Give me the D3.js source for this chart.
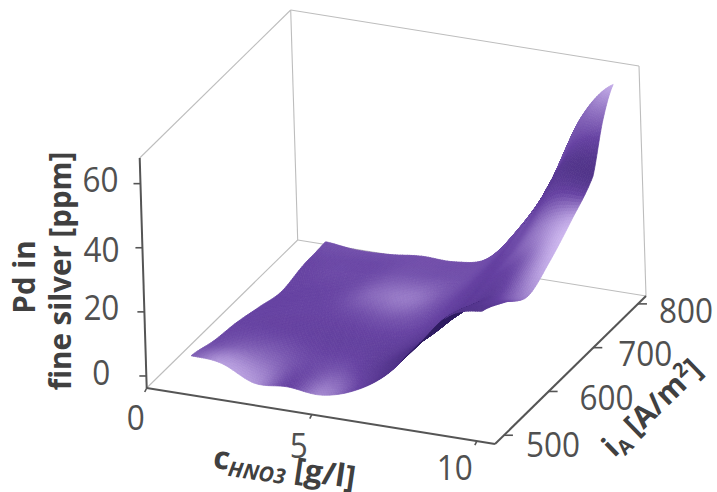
<!DOCTYPE html>
<html>
<head>
<meta charset="utf-8">
<script src="https://cdn.jsdelivr.net/npm/d3@7"></script>
<style>
  html, body { margin: 0; background: #fff; }
  svg { display: block; }
  text { font-family: "Open Sans", sans-serif; }
</style>
</head>
<body>
<div id="chart"></div>
<script>
const concentrations = [1.1, 2, 3, 4, 5, 6, 7, 8, 9, 10];
const currents = [500, 550, 600, 650, 700, 750, 775, 800];

// Pd [ppm], one row per current density
const pd500 = [5.4, 4.6, 0, 0.5, -0.4, 2.5, 9, 20, 31, 34];
const pd550 = [3.2, 3, 2, 1, 1, 3, 9.5, 19, 27.5, 30];
const pd600 = [2, 2, 2, 1.5, 1.5, 3, 8, 17, 24, 25];
const pd650 = [0, 1, 1.5, 2, 2, 3, 8, 18, 26, 29];
const pd700 = [-2, 0, 1, 2, 2, 3, 9, 20, 31, 35];
const pd750 = [-0.5, -0.5, 0, 1, 1.5, 3, 11, 25, 41, 42];
const pd775 = [-0.3, -0.8, -0.4, 0.6, 0.8, 2.9, 12.5, 27, 46, 56];
const pd800 = [0, -1, -0.8, 0.3, 0.2, 2.8, 14, 29.6, 52, 63.8];
const pdRows = [pd500, pd550, pd600, pd650, pd700, pd750, pd775, pd800];

// how light the surface looks at each node, -1 dark .. 1 light
const shade500 = [0.2, 0.65, 0.6, 0, 0.5, 0.05, -0.3, -0.3, -0.3, -0.3];
const shade550 = [0.05, 0.2, 0.2, 0.05, 0.1, -0.15, -0.35, -0.35, -0.3, 0];
const shade600 = [0, 0, -0.02, -0.05, -0.05, -0.1, -0.2, -0.15, -0.1, 0.5];
const shade650 = [0, 0, 0, 0.05, 0.1, 0.05, -0.1, -0.05, 0.1, 0.8];
const shade700 = [0, 0, 0.05, 0.3, 0.4, 0.1, -0.05, 0.05, 0.4, 0.75];
const shade750 = [0, 0.05, 0.05, 0.15, 0.15, 0.1, 0, 0.1, -0.25, -0.35];
const shade775 = [0.05, 0.05, 0.05, 0.1, 0.1, 0.1, 0.05, 0.1, 0, 0.25];
const shade800 = [0.1, 0.1, 0.1, 0.1, 0.1, 0.1, 0.1, 0.1, 0.25, 0.8];
const shadeRows = [shade500, shade550, shade600, shade650, shade700, shade750, shade775, shade800];

const xTicks = [0, 5, 10];
const yTicks = [500, 600, 700, 800];
const zTicks = [0, 20, 40, 60];

const xScale = d3.scaleLinear().domain([0, 10.55]).range([0, 1]);
const yScale = d3.scaleLinear().domain([480, 818]).range([0, 1]);
const zScale = d3.scaleLinear().domain([-3.75, 68]).range([0, 1]);

// grid node index to data value
const xAtNode = d3
  .scaleLinear()
  .domain(d3.range(concentrations.length))
  .range(concentrations);
const yAtNode = d3
  .scaleLinear()
  .domain(d3.range(currents.length))
  .range(currents);

const shadeColor = d3
  .scaleLinear()
  .domain([-1, 0, 1])
  .range(['#2a1a5c', '#6642a2', '#dcc8fa']);

// box corner vectors on screen
const origin = [146.7, 388];
const xVec = [348.3, 56];
const yVec = [151, -148];
const zVec = [-7, -230];

function project(x, y, z) {
  const u = xScale(x);
  const v = yScale(y);
  const w = zScale(z);
  return [
    origin[0] + u * xVec[0] + v * yVec[0] + w * zVec[0],
    origin[1] + u * xVec[1] + v * yVec[1] + w * zVec[1],
  ];
}

function catmull(p0, p1, p2, p3, t) {
  return (
    0.5 *
    (2 * p1 +
      (p2 - p0) * t +
      (2 * p0 - 5 * p1 + 4 * p2 - p3) * t * t +
      (3 * p1 - p0 - 3 * p2 + p3) * t * t * t)
  );
}

// smooth lookup in a grid, fi and fj are fractional node indexes
function smoothAt(rows, fi, fj) {
  const nj = rows.length;
  const ni = rows[0].length;
  const j = Math.min(Math.floor(fj), nj - 2);
  const i = Math.min(Math.floor(fi), ni - 2);
  const pick = (a, b) =>
    rows[Math.max(0, Math.min(nj - 1, b))][Math.max(0, Math.min(ni - 1, a))];
  const across = [-1, 0, 1, 2].map((d) =>
    catmull(
      pick(i - 1, j + d),
      pick(i, j + d),
      pick(i + 1, j + d),
      pick(i + 2, j + d),
      fi - i
    )
  );
  return catmull(across[0], across[1], across[2], across[3], fj - j);
}

const width = 717;
const height = 492;

const svg = d3
  .select('#chart')
  .append('svg')
  .attr('width', width)
  .attr('height', height);

const line = d3.line();
const boxMinX = xScale.domain()[0];
const boxMaxX = xScale.domain()[1];
const boxMinY = yScale.domain()[0];
const boxMaxY = yScale.domain()[1];
const boxMinZ = zScale.domain()[0];
const boxMaxZ = zScale.domain()[1];

// back panels
const panelLines = [
  [[boxMinX, boxMinY, boxMaxZ], [boxMinX, boxMaxY, boxMaxZ]],
  [[boxMinX, boxMaxY, boxMaxZ], [boxMaxX, boxMaxY, boxMaxZ]],
  [[boxMaxX, boxMaxY, boxMaxZ], [boxMaxX, boxMaxY, boxMinZ]],
  [[boxMinX, boxMaxY, boxMaxZ], [boxMinX, boxMaxY, boxMinZ]],
  [[boxMinX, boxMaxY, boxMinZ], [boxMinX, boxMinY, boxMinZ]],
  [[boxMinX, boxMaxY, boxMinZ], [boxMaxX, boxMaxY, boxMinZ]],
];

svg
  .append('g')
  .selectAll('path')
  .data(panelLines)
  .join('path')
  .attr('d', (d) => line(d.map((p) => project(...p))))
  .attr('fill', 'none')
  .attr('stroke', '#bdbdbd')
  .attr('stroke-width', 1.1);

// surface, painted from the back row forward
const steps = 14;
const cells = [];
for (let j = (currents.length - 1) * steps - 1; j >= 0; j--) {
  for (let i = 0; i < (concentrations.length - 1) * steps; i++) {
    const corners = [
      [i, j],
      [i + 1, j],
      [i + 1, j + 1],
      [i, j + 1],
    ].map(([a, b]) => {
      const fi = a / steps;
      const fj = b / steps;
      return project(xAtNode(fi), yAtNode(fj), smoothAt(pdRows, fi, fj));
    });
    const [a, b, c, d] = corners;
    const area =
      (c[0] - a[0]) * (d[1] - b[1]) - (d[0] - b[0]) * (c[1] - a[1]);
    const light = smoothAt(shadeRows, (i + 0.5) / steps, (j + 0.5) / steps);
    cells.push({ corners, fill: shadeColor(area > 0 ? -0.9 : light) });
  }
}

svg
  .append('g')
  .style('filter', 'blur(0.6px)')
  .selectAll('path')
  .data(cells)
  .join('path')
  .attr('d', (d) => line(d.corners) + 'Z')
  .attr('fill', (d) => d.fill)
  .attr('stroke', (d) => d.fill)
  .attr('stroke-width', 0.7);

// axes
const axisColor = '#555555';
const axes = svg.append('g').attr('fill', 'none').attr('stroke', axisColor);

const axisLines = [
  [[boxMinX, boxMinY, boxMinZ], [boxMinX, boxMinY, boxMaxZ]],
  [[boxMinX, boxMinY, boxMinZ], [boxMaxX, boxMinY, boxMinZ]],
  [[boxMaxX, boxMinY, boxMinZ], [boxMaxX, boxMaxY, boxMinZ]],
];

axes
  .selectAll('path.axis')
  .data(axisLines)
  .join('path')
  .attr('class', 'axis')
  .attr('stroke-width', 2)
  .attr('d', (d) => line(d.map((p) => project(...p))));

const tickRows = [
  ...xTicks.map((t) => ({ at: project(t, boxMinY, boxMinZ), dx: -2, dy: 4 })),
  ...yTicks.map((t) => ({ at: project(boxMaxX, t, boxMinZ), dx: 9, dy: 0 })),
  ...zTicks.map((t) => ({ at: project(boxMinX, boxMinY, t), dx: -7, dy: 0 })),
];

axes
  .selectAll('path.tick')
  .data(tickRows)
  .join('path')
  .attr('class', 'tick')
  .attr('stroke-width', 1.6)
  .attr('d', (d) =>
    line([d.at, [d.at[0] + d.dx, d.at[1] + d.dy]])
  );

// tick labels
const labelColor = '#505050';

function tickLabels(values, pos, offsets) {
  svg
    .append('g')
    .selectAll('text')
    .data(values)
    .join('text')
    .attr('x', (d, i) => pos(d)[0] + offsets[i][0])
    .attr('y', (d, i) => pos(d)[1] + offsets[i][1])
    .attr('text-anchor', 'middle')
    .attr('dominant-baseline', 'central')
    .attr('font-size', 35)
    .attr('textLength', (d) => String(d).length * 18)
    .attr('lengthAdjust', 'spacingAndGlyphs')
    .attr('fill', labelColor)
    .text((d) => d);
}

tickLabels(xTicks, (t) => project(t, boxMinY, boxMinZ), [[-11, 28], [-13, 30], [-22, 25]]);
tickLabels(yTicks, (t) => project(boxMaxX, t, boxMinZ), [[49, 8], [58, 5], [52, 5], [48, 6]]);
tickLabels(zTicks, (t) => project(boxMinX, boxMinY, t), [[-45, -4], [-43, -5], [-41, 1], [-40, -5]]);

// axis titles
const titleColor = '#404040';

function title(x, y, angle, size) {
  return svg
    .append('text')
    .attr('transform', `translate(${x},${y}) rotate(${angle})`)
    .attr('text-anchor', 'middle')
    .attr('font-size', size)
    .attr('font-weight', 700)
    .attr('fill', titleColor);
}

title(35, 277, -90, 29.5).text('Pd in');
title(71, 271, -90, 29.5).text('fine silver [ppm]');

const xTitle = title(283, 478, 8.5, 31.5);
xTitle.append('tspan').text('c');
xTitle.append('tspan').attr('font-size', 21).attr('font-style', 'italic').attr('dy', 6).text('HNO3');
xTitle.append('tspan').attr('dy', -6).text(' [g/l]');

const yTitle = title(659, 415, -44, 30);
yTitle.append('tspan').text('i');
yTitle.append('tspan').attr('font-size', 20).attr('dy', 6).text('A');
yTitle.append('tspan').attr('dy', -6).text(' [A/m');
yTitle.append('tspan').attr('font-size', 20).attr('dy', -11).text('2');
yTitle.append('tspan').attr('dy', 11).text(']');
</script>
</body>
</html>
